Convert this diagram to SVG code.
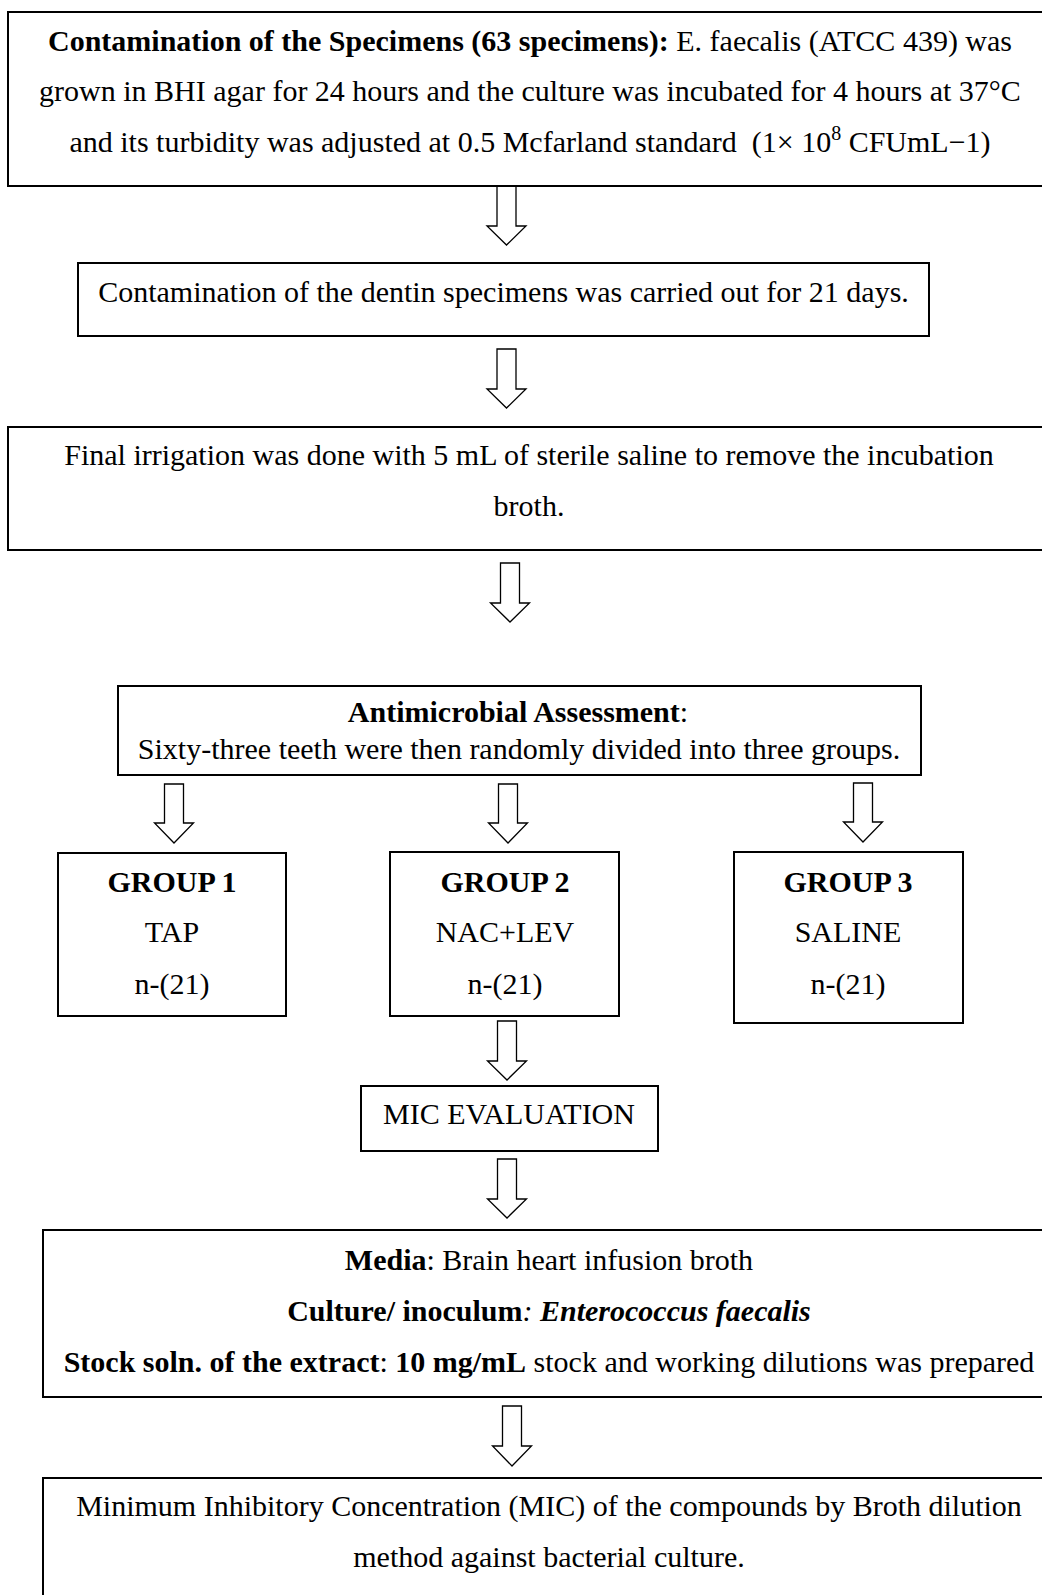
<svg xmlns="http://www.w3.org/2000/svg" width="1042" height="1595" viewBox="0 0 1042 1595">
<style>
.box{fill:#fff;stroke:#000;stroke-width:2}
.arr{fill:#fff;stroke:#000;stroke-width:1.3;stroke-linejoin:miter}
text{font-family:"Liberation Serif","Times New Roman",serif;font-size:30px;fill:#000;text-anchor:middle}
.b{font-weight:bold}
.i{font-style:italic}
</style>
<rect width="1042" height="1595" fill="#fff"/>
<g id="connectors">
<path class="arr" d="M497 186V226H487L506.5 245L526 226H516V186Z"/>
<path class="arr" d="M497 349V389H487L506.5 408L526 389H516V349Z"/>
<path class="arr" d="M500.5 563V603H490.5L510 622L529.5 603H519.5V563Z"/>
<path class="arr" d="M164.5 784V823H154.5L174 843L193.5 823H183.5V784Z"/>
<path class="arr" d="M498.5 784V823H488.5L508 843L527.5 823H517.5V784Z"/>
<path class="arr" d="M853.5 783V822H843.5L863 842L882.5 822H872.5V783Z"/>
<path class="arr" d="M497.5 1021V1061H487.5L507 1080L526.5 1061H516.5V1021Z"/>
<path class="arr" d="M497.5 1159V1199H487.5L507 1218L526.5 1199H516.5V1159Z"/>
<path class="arr" d="M502.5 1406V1446H492.5L512 1466L531.5 1446H521.5V1406Z"/>
</g>
<g id="n1">
<rect class="box" x="8" y="12" width="1050" height="174"/>
<text x="530" y="51"><tspan class="b">Contamination of the Specimens (63 specimens):</tspan> E. faecalis (ATCC 439) was</text>
<text x="530" y="101">grown in BHI agar for 24 hours and the culture was incubated for 4 hours at 37°C</text>
<text x="530" y="152" xml:space="preserve">and its turbidity was adjusted at 0.5 Mcfarland standard  (1× 10<tspan font-size="20" dy="-12">8</tspan><tspan dy="12"> CFUmL−1)</tspan></text>
</g>
<g id="n2">
<rect class="box" x="78" y="263" width="851" height="73"/>
<text x="503.5" y="302">Contamination of the dentin specimens was carried out for 21 days.</text>
</g>
<g id="n3">
<rect class="box" x="8" y="427" width="1050" height="123"/>
<text x="529" y="465">Final irrigation was done with 5 mL of sterile saline to remove the incubation</text>
<text x="529" y="516">broth.</text>
</g>
<g id="n4">
<rect class="box" x="118" y="686" width="803" height="89"/>
<text x="518" y="722"><tspan class="b">Antimicrobial Assessment</tspan>:</text>
<text x="519" y="759">Sixty-three teeth were then randomly divided into three groups.</text>
</g>
<g id="g1">
<rect class="box" x="58" y="853" width="228" height="163"/>
<text class="b" x="172" y="892">GROUP 1</text>
<text x="172" y="942">TAP</text>
<text x="172" y="994">n-(21)</text>
</g>
<g id="g2">
<rect class="box" x="390" y="852" width="229" height="164"/>
<text class="b" x="505" y="892">GROUP 2</text>
<text x="505" y="942">NAC+LEV</text>
<text x="505" y="994">n-(21)</text>
</g>
<g id="g3">
<rect class="box" x="734" y="852" width="229" height="171"/>
<text class="b" x="848" y="892">GROUP 3</text>
<text x="848" y="942">SALINE</text>
<text x="848" y="994">n-(21)</text>
</g>
<g id="mic">
<rect class="box" x="361" y="1086" width="297" height="65"/>
<text x="509" y="1124">MIC EVALUATION</text>
</g>
<g id="media">
<rect class="box" x="43" y="1230" width="1020" height="167"/>
<text x="549" y="1270"><tspan class="b">Media</tspan>: Brain heart infusion broth</text>
<text x="549" y="1321"><tspan class="b">Culture/ inoculum</tspan><tspan class="i">: </tspan><tspan class="b i">Enterococcus faecalis</tspan></text>
<text x="549" y="1372"><tspan class="b">Stock soln. of the extract</tspan>: <tspan class="b">10 mg/mL</tspan> stock and working dilutions was prepared</text>
</g>
<g id="mic-method">
<rect class="box" x="43" y="1478" width="1020" height="140"/>
<text x="549" y="1516">Minimum Inhibitory Concentration (MIC) of the compounds by Broth dilution</text>
<text x="549" y="1567">method against bacterial culture.</text>
</g>
</svg>
